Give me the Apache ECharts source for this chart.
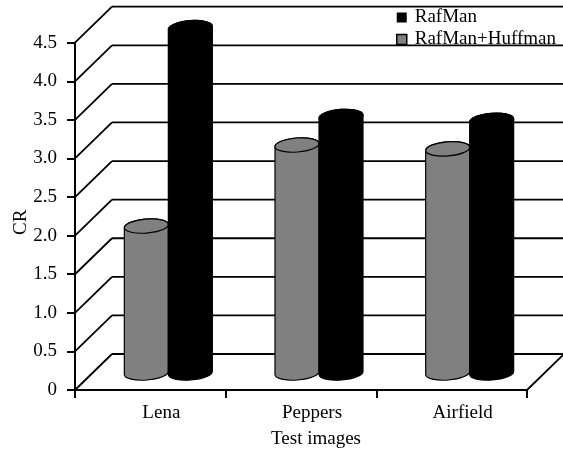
<!DOCTYPE html>
<html><head><meta charset="utf-8">
<style>html,body{margin:0;padding:0;background:#fff}#c{width:563px;height:451px}</style>
<script src="https://cdn.jsdelivr.net/npm/echarts@6/dist/echarts.min.js"></script>
</head><body><div id="c"></div>
<script>
const categories = ['Lena', 'Peppers', 'Airfield'];
const huffman = [1.93, 2.98, 2.93];
const rafman = [4.5, 3.35, 3.3];
const ticks = [0, 0.5, 1, 1.5, 2, 2.5, 3, 3.5, 4, 4.5];
const FONT = 'Liberation Serif';
const DEPTH = [37, -36];      // oblique offset of the back wall
const MID = [18, -15];        // where the cylinders sit on the floor
const RX = 22, RY = 7, TILT = -4.5;

const chart = echarts.init(document.getElementById('c'), null, {renderer: 'canvas'});

function gridItem(params, api) {
  const v = api.value(0);
  const cs = params.coordSys;
  const y = api.coord([0, v])[1];
  const x0 = cs.x, x1 = cs.x + cs.width;
  const style = {stroke: '#000', lineWidth: 1.8, fill: null};
  const kids = [
    {type: 'line', shape: {x1: x0, y1: y, x2: x0 + DEPTH[0], y2: y + DEPTH[1]}, style},
    {type: 'line', shape: {x1: x0 + DEPTH[0], y1: y + DEPTH[1], x2: x1 + DEPTH[0], y2: y + DEPTH[1]}, style}
  ];
  if (v === 0) kids.push({type: 'line', shape: {x1: x1, y1: y, x2: x1 + DEPTH[0], y2: y + DEPTH[1]}, style});
  return {type: 'group', children: kids};
}

function cylinder(side, fill) {
  return function (params, api) {
    const i = api.value(0), v = api.value(1);
    const c = api.coord([i, v]), b = api.coord([i, 0]);
    const cx = c[0] + MID[0] + side * RX;
    const ty = c[1] + MID[1], by = b[1] + MID[1] - 2;
    const dx = RX, dy = RX * Math.tan(TILT * Math.PI / 180);
    const L = cx - dx, R = cx + dx;
    const arc = (x, y, sweep) => `A ${RX} ${RY} ${TILT} 1 ${sweep} ${x} ${y}`;
    const body = `M ${L} ${ty - dy} L ${L} ${by - dy} ${arc(R, by + dy, 0)} L ${R} ${ty + dy} ${arc(L, ty - dy, 0)} Z`;
    const top = `M ${L} ${ty - dy} ${arc(R, ty + dy, 1)} ${arc(L, ty - dy, 1)} Z`;
    const style = {fill: fill, stroke: '#000', lineWidth: 1.2};
    return {type: 'group', children: [
      {type: 'path', shape: {pathData: body}, style},
      {type: 'path', shape: {pathData: top}, style}
    ]};
  };
}

const text = {fontFamily: FONT, fontSize: 19, color: '#000'};
chart.setOption({
  animation: false,
  backgroundColor: '#fff',
  grid: {left: 75, right: 36, top: 42.7, bottom: 61, containLabel: false, outerBoundsMode: 'none'},
  legend: {
    orient: 'vertical', left: 396, top: 8, itemWidth: 10, itemHeight: 10, itemGap: 3, padding: 0,
    textStyle: {fontFamily: FONT, fontSize: 19, color: '#000', padding: [0, 0, 0, 3]},
    data: [
      {name: 'RafMan', icon: 'rect', itemStyle: {color: '#000', borderColor: '#000'}},
      {name: 'RafMan+Huffman', icon: 'rect', itemStyle: {color: '#808080', borderColor: '#000', borderWidth: 1.5}}
    ]
  },
  xAxis: {
    type: 'category', data: categories,
    name: 'Test images', nameLocation: 'middle', nameGap: 40, nameMoveOverlap: false,
    nameTextStyle: Object.assign({padding: [0, 0, 0, 30]}, text),
    axisLine: {lineStyle: {color: '#000', width: 2}},
    axisTick: {show: true, length: 8, lineStyle: {color: '#000', width: 2}},
    axisLabel: Object.assign({margin: 14, interval: 0, padding: [0, 0, 0, 22]}, text),
    splitLine: {show: false}
  },
  yAxis: {
    type: 'value', min: 0, max: 4.5, interval: 0.5,
    name: 'CR', nameLocation: 'middle', nameGap: 44, nameRotate: 90, nameMoveOverlap: false,
    nameTextStyle: Object.assign({padding: [0, 12, 0, 0]}, text),
    axisLine: {show: true, lineStyle: {color: '#000', width: 2}},
    axisTick: {show: true, length: 8, lineStyle: {color: '#000', width: 2}},
    axisLabel: Object.assign({margin: 18, formatter: v => v === 0 ? '0' : v.toFixed(1)}, text),
    splitLine: {show: false}
  },
  series: [
    {type: 'custom', name: 'walls', silent: true, z: 1, clip: false, renderItem: gridItem,
     encode: {y: 0}, data: ticks.map(t => [t])},
    {type: 'custom', name: 'RafMan+Huffman', z: 2, clip: false, renderItem: cylinder(-1, '#808080'),
     itemStyle: {color: '#808080'}, encode: {x: 0, y: 1}, data: huffman.map((v, i) => [i, v])},
    {type: 'custom', name: 'RafMan', z: 3, clip: false, renderItem: cylinder(1, '#000'),
     itemStyle: {color: '#000'}, encode: {x: 0, y: 1}, data: rafman.map((v, i) => [i, v])}
  ]
});
</script></body></html>
